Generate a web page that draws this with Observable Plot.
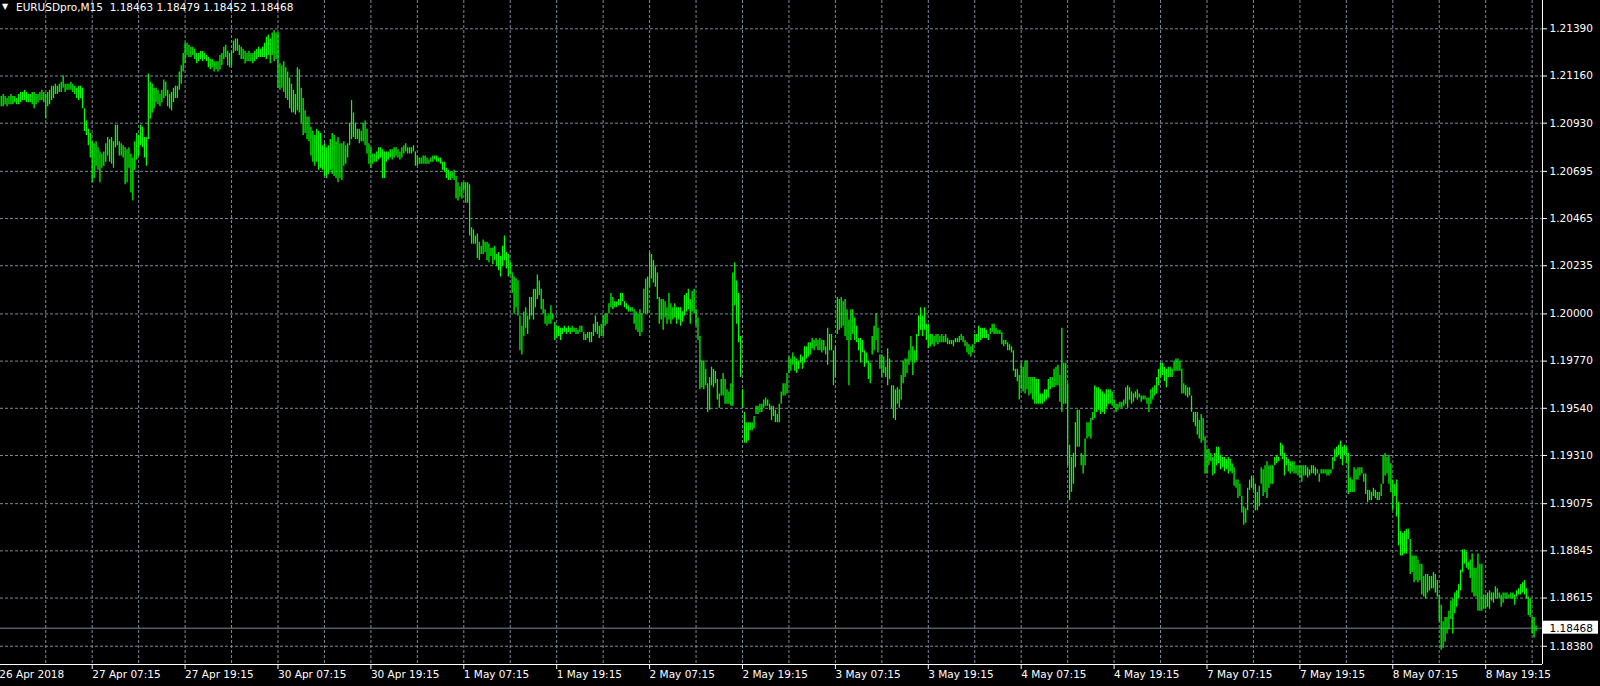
<!DOCTYPE html>
<html><head><meta charset="utf-8">
<script src="https://cdn.jsdelivr.net/npm/d3@7"></script>
<script src="https://cdn.jsdelivr.net/npm/@observablehq/plot@0.6"></script>
<style>
html,body{margin:0;padding:0;background:#000;}
#chart svg{display:block;}
</style></head><body><div id="chart"></div>
<script>
const symbol = "EURUSDpro,M15";
const lastBar = {open: 1.18463, high: 1.18479, low: 1.18452, close: 1.18468};
const priceTicks = [1.21390, 1.21160, 1.20930, 1.20695, 1.20465, 1.20235, 1.20000, 1.19770, 1.19540, 1.19310, 1.19075, 1.18845, 1.18615, 1.18380];
const timeLabels = ["26 Apr 2018","27 Apr 07:15","27 Apr 19:15","30 Apr 07:15","30 Apr 19:15","1 May 07:15","1 May 19:15","2 May 07:15","2 May 19:15","3 May 07:15","3 May 19:15","4 May 07:15","4 May 19:15","7 May 07:15","7 May 19:15","8 May 07:15","8 May 19:15"];
const barsPerLabel = 48; // M15 bars between two time labels (12 h)
const barsPerGrid = 24;

// high / low of each M15 bar, one pair of arrays per 12-hour session
const hi26Apr1915 = [1.2106,1.2106,1.2107,1.2106,1.2105,1.2106,1.2107,1.2106,1.2106,1.2105,1.2107,1.2108,1.2108,1.2109,1.2108,1.2107,1.2107,1.2108,1.2108,1.2107,1.2107,1.2108,1.2109,1.2108,1.2107,1.2108,1.2109,1.2111,1.2111,1.2112,1.2111,1.2112,1.2113,1.2116,1.2112,1.2112,1.2112,1.2113,1.2112,1.2111,1.2110,1.2111,1.2111,1.2110,1.2100,1.2094,1.2090,1.2088];
const lo26Apr1915 = [1.2096,1.2101,1.2101,1.2102,1.2101,1.2102,1.2102,1.2102,1.2103,1.2102,1.2102,1.2103,1.2104,1.2104,1.2103,1.2103,1.2103,1.2102,1.2100,1.2102,1.2103,1.2104,1.2104,1.2103,1.2095,1.2101,1.2102,1.2104,1.2105,1.2107,1.2107,1.2108,1.2108,1.2110,1.2108,1.2109,1.2109,1.2109,1.2108,1.2107,1.2105,1.2104,1.2105,1.2100,1.2089,1.2087,1.2082,1.2076];
const hi27Apr0715 = [1.2084,1.2083,1.2084,1.2081,1.2079,1.2078,1.2079,1.2083,1.2086,1.2085,1.2086,1.2084,1.2092,1.2092,1.2084,1.2083,1.2082,1.2081,1.2080,1.2081,1.2078,1.2076,1.2084,1.2088,1.2087,1.2092,1.2091,1.2086,1.2086,1.2117,1.2113,1.2112,1.2110,1.2110,1.2109,1.2107,1.2109,1.2114,1.2113,1.2109,1.2107,1.2108,1.2110,1.2111,1.2111,1.2118,1.2121,1.2127];
const lo27Apr0715 = [1.2064,1.2066,1.2072,1.2070,1.2064,1.2071,1.2072,1.2074,1.2077,1.2074,1.2073,1.2071,1.2081,1.2082,1.2077,1.2077,1.2076,1.2063,1.2064,1.2071,1.2059,1.2055,1.2070,1.2075,1.2077,1.2082,1.2081,1.2076,1.2072,1.2085,1.2095,1.2098,1.2100,1.2103,1.2102,1.2101,1.2103,1.2105,1.2106,1.2101,1.2100,1.2099,1.2103,1.2105,1.2105,1.2109,1.2112,1.2118];
const hi27Apr1915 = [1.2132,1.2132,1.2131,1.2130,1.2130,1.2129,1.2127,1.2127,1.2128,1.2128,1.2127,1.2126,1.2125,1.2124,1.2124,1.2123,1.2123,1.2123,1.2126,1.2127,1.2130,1.2131,1.2128,1.2127,1.2128,1.2133,1.2134,1.2134,1.2131,1.2130,1.2129,1.2128,1.2127,1.2128,1.2127,1.2127,1.2128,1.2129,1.2130,1.2129,1.2130,1.2132,1.2135,1.2136,1.2134,1.2137,1.2138,1.2137];
const lo27Apr1915 = [1.2122,1.2126,1.2125,1.2125,1.2126,1.2124,1.2122,1.2123,1.2124,1.2123,1.2124,1.2123,1.2120,1.2119,1.2120,1.2118,1.2119,1.2118,1.2119,1.2121,1.2124,1.2125,1.2121,1.2120,1.2121,1.2127,1.2128,1.2128,1.2126,1.2124,1.2124,1.2122,1.2123,1.2123,1.2123,1.2122,1.2123,1.2124,1.2125,1.2125,1.2125,1.2125,1.2124,1.2126,1.2122,1.2126,1.2123,1.2124];
const hi30Apr0715 = [1.2137,1.2122,1.2121,1.2123,1.2120,1.2118,1.2115,1.2112,1.2109,1.2107,1.2120,1.2119,1.2110,1.2105,1.2099,1.2096,1.2096,1.2091,1.2089,1.2087,1.2090,1.2089,1.2088,1.2082,1.2083,1.2081,1.2082,1.2085,1.2088,1.2087,1.2084,1.2086,1.2083,1.2083,1.2084,1.2082,1.2083,1.2093,1.2104,1.2098,1.2093,1.2090,1.2090,1.2089,1.2093,1.2094,1.2090,1.2083];
const lo30Apr0715 = [1.2110,1.2109,1.2110,1.2108,1.2105,1.2104,1.2100,1.2098,1.2098,1.2097,1.2099,1.2098,1.2093,1.2087,1.2088,1.2085,1.2084,1.2077,1.2074,1.2072,1.2074,1.2070,1.2071,1.2070,1.2067,1.2066,1.2068,1.2070,1.2068,1.2067,1.2066,1.2064,1.2066,1.2065,1.2072,1.2073,1.2076,1.2082,1.2085,1.2086,1.2085,1.2085,1.2083,1.2084,1.2084,1.2082,1.2078,1.2073];
const hi30Apr1915 = [1.2081,1.2078,1.2078,1.2079,1.2081,1.2081,1.2080,1.2079,1.2079,1.2079,1.2080,1.2080,1.2081,1.2081,1.2080,1.2079,1.2081,1.2082,1.2083,1.2081,1.2081,1.2081,1.2082,1.2079,1.2077,1.2076,1.2076,1.2077,1.2077,1.2076,1.2075,1.2076,1.2077,1.2077,1.2077,1.2076,1.2076,1.2074,1.2074,1.2071,1.2070,1.2069,1.2069,1.2070,1.2067,1.2064,1.2062,1.2064];
const lo30Apr1915 = [1.2071,1.2073,1.2074,1.2074,1.2075,1.2076,1.2066,1.2066,1.2074,1.2075,1.2076,1.2075,1.2076,1.2077,1.2076,1.2075,1.2076,1.2078,1.2079,1.2078,1.2078,1.2078,1.2079,1.2072,1.2072,1.2073,1.2073,1.2073,1.2073,1.2073,1.2073,1.2074,1.2074,1.2075,1.2074,1.2074,1.2073,1.2070,1.2069,1.2066,1.2065,1.2065,1.2066,1.2065,1.2056,1.2055,1.2057,1.2056];
const hi1May0715 = [1.2064,1.2064,1.2064,1.2063,1.2042,1.2041,1.2038,1.2039,1.2035,1.2033,1.2036,1.2035,1.2035,1.2034,1.2032,1.2032,1.2033,1.2029,1.2030,1.2028,1.2033,1.2038,1.2030,1.2029,1.2025,1.2020,1.2018,1.2017,1.2016,1.1999,1.1994,1.2001,1.2003,1.1999,1.2008,1.2008,1.2012,1.2012,1.2019,1.2016,1.2012,1.2007,1.2002,1.1999,1.2000,1.2004,1.2000,1.1996];
const lo1May0715 = [1.2060,1.2054,1.2054,1.2038,1.2034,1.2034,1.2034,1.2027,1.2026,1.2029,1.2029,1.2030,1.2026,1.2025,1.2028,1.2024,1.2026,1.2023,1.2021,1.2018,1.2023,1.2026,1.2022,1.2018,1.2019,1.2010,1.2000,1.2003,1.1999,1.1982,1.1980,1.1989,1.1993,1.1990,1.1997,1.1999,1.1997,1.2003,1.2007,1.2009,1.2002,1.2000,1.1995,1.1994,1.1995,1.1995,1.1997,1.1987];
const hi1May1915 = [1.1994,1.1994,1.1993,1.1993,1.1994,1.1993,1.1994,1.1993,1.1994,1.1993,1.1993,1.1992,1.1994,1.1994,1.1991,1.1990,1.1991,1.1991,1.1991,1.1995,1.1999,1.1996,1.1994,1.1995,1.1999,1.2000,1.2000,1.2005,1.2010,1.2008,1.2006,1.2006,1.2007,1.2010,1.2010,1.2006,1.2005,1.2004,1.2003,1.2003,1.2002,1.2001,1.2000,1.2002,1.2000,1.2012,1.2017,1.2018];
const lo1May1915 = [1.1988,1.1989,1.1987,1.1990,1.1991,1.1990,1.1991,1.1990,1.1991,1.1991,1.1990,1.1990,1.1991,1.1991,1.1987,1.1987,1.1988,1.1986,1.1986,1.1989,1.1991,1.1990,1.1988,1.1989,1.1989,1.1994,1.1995,1.2000,1.2003,1.2002,1.2003,1.2003,1.2004,1.2004,1.2006,1.2003,1.2002,1.2001,1.2001,1.2001,1.1995,1.1992,1.1991,1.1989,1.1991,1.2000,1.2000,1.2000];
const hi2May0715 = [1.2030,1.2029,1.2026,1.2023,1.2020,1.2008,1.2007,1.2007,1.2006,1.2003,1.2010,1.2005,1.2003,1.2005,1.2003,1.2003,1.2003,1.2001,1.2009,1.2010,1.2012,1.2007,1.2011,1.2012,1.2002,1.1998,1.1989,1.1977,1.1977,1.1973,1.1966,1.1969,1.1974,1.1973,1.1972,1.1968,1.1961,1.1968,1.1971,1.1968,1.1963,1.1962,1.1966,1.2020,1.2025,1.2016,1.2010,1.1989];
const lo2May0715 = [1.2013,1.2017,1.2015,1.2013,1.2007,1.1995,1.1997,1.1992,1.1998,1.1995,1.1997,1.1995,1.1997,1.1998,1.1995,1.1997,1.1994,1.1996,1.1999,1.2001,1.2002,1.1995,1.2001,1.2000,1.1994,1.1987,1.1963,1.1964,1.1963,1.1965,1.1952,1.1953,1.1965,1.1964,1.1966,1.1958,1.1954,1.1960,1.1960,1.1956,1.1956,1.1956,1.1955,1.1955,1.2004,1.1995,1.1986,1.1969];
const hi2May1915 = [1.1963,1.1952,1.1947,1.1947,1.1947,1.1947,1.1950,1.1955,1.1955,1.1956,1.1956,1.1958,1.1959,1.1958,1.1956,1.1955,1.1955,1.1953,1.1951,1.1956,1.1962,1.1966,1.1966,1.1971,1.1979,1.1978,1.1981,1.1979,1.1978,1.1977,1.1980,1.1979,1.1984,1.1984,1.1986,1.1986,1.1988,1.1987,1.1988,1.1987,1.1988,1.1987,1.1987,1.1984,1.1993,1.1990,1.1990,1.1982];
const lo2May1915 = [1.1954,1.1937,1.1937,1.1938,1.1943,1.1943,1.1944,1.1951,1.1951,1.1952,1.1952,1.1954,1.1955,1.1955,1.1953,1.1948,1.1950,1.1947,1.1947,1.1947,1.1956,1.1960,1.1960,1.1961,1.1971,1.1972,1.1975,1.1972,1.1971,1.1973,1.1976,1.1973,1.1976,1.1978,1.1979,1.1980,1.1983,1.1982,1.1984,1.1982,1.1982,1.1981,1.1982,1.1980,1.1975,1.1982,1.1982,1.1965];
const hi3May0715 = [1.1984,1.2008,1.2007,1.2008,1.2006,1.2007,1.2002,1.1997,1.2002,1.2002,1.1998,1.1994,1.1988,1.1988,1.1987,1.1982,1.1981,1.1977,1.1976,1.1989,1.1994,1.2000,1.1993,1.1980,1.1980,1.1979,1.1974,1.1983,1.1978,1.1965,1.1965,1.1963,1.1964,1.1963,1.1970,1.1977,1.1978,1.1978,1.1982,1.1989,1.1984,1.1982,1.1990,1.1999,1.2003,1.1999,1.2003,1.1995];
const lo3May0715 = [1.1969,1.1990,1.1992,1.1993,1.1994,1.1989,1.1987,1.1965,1.1987,1.1990,1.1987,1.1986,1.1982,1.1976,1.1981,1.1974,1.1976,1.1968,1.1966,1.1980,1.1982,1.1987,1.1981,1.1973,1.1969,1.1971,1.1969,1.1965,1.1968,1.1954,1.1949,1.1948,1.1956,1.1954,1.1958,1.1966,1.1969,1.1971,1.1975,1.1977,1.1970,1.1976,1.1977,1.1989,1.1992,1.1989,1.1992,1.1987];
const hi3May1915 = [1.1995,1.1990,1.1990,1.1989,1.1990,1.1990,1.1989,1.1990,1.1989,1.1990,1.1988,1.1987,1.1987,1.1987,1.1988,1.1988,1.1989,1.1990,1.1989,1.1987,1.1986,1.1985,1.1984,1.1985,1.1990,1.1990,1.1994,1.1993,1.1993,1.1993,1.1992,1.1990,1.1993,1.1995,1.1995,1.1993,1.1992,1.1992,1.1991,1.1987,1.1987,1.1986,1.1985,1.1984,1.1982,1.1973,1.1973,1.1970];
const lo3May1915 = [1.1983,1.1984,1.1985,1.1984,1.1986,1.1985,1.1986,1.1986,1.1986,1.1986,1.1985,1.1985,1.1985,1.1984,1.1986,1.1986,1.1986,1.1987,1.1986,1.1984,1.1981,1.1980,1.1979,1.1981,1.1985,1.1986,1.1986,1.1987,1.1988,1.1988,1.1988,1.1987,1.1990,1.1991,1.1990,1.1990,1.1990,1.1990,1.1985,1.1984,1.1985,1.1982,1.1982,1.1981,1.1972,1.1969,1.1967,1.1958];
const hi4May0715 = [1.1976,1.1974,1.1977,1.1977,1.1969,1.1969,1.1969,1.1969,1.1968,1.1968,1.1961,1.1961,1.1963,1.1963,1.1968,1.1969,1.1969,1.1973,1.1974,1.1975,1.1970,1.1993,1.1976,1.1976,1.1966,1.1936,1.1930,1.1932,1.1947,1.1953,1.1953,1.1932,1.1931,1.1939,1.1947,1.1947,1.1949,1.1952,1.1965,1.1964,1.1964,1.1963,1.1962,1.1961,1.1963,1.1963,1.1963,1.1962];
const lo4May0715 = [1.1963,1.1962,1.1961,1.1963,1.1960,1.1961,1.1958,1.1956,1.1956,1.1956,1.1956,1.1956,1.1957,1.1958,1.1959,1.1963,1.1964,1.1964,1.1965,1.1965,1.1957,1.1952,1.1956,1.1956,1.1926,1.1909,1.1913,1.1917,1.1925,1.1935,1.1935,1.1926,1.1922,1.1926,1.1939,1.1940,1.1939,1.1948,1.1949,1.1952,1.1953,1.1951,1.1952,1.1951,1.1954,1.1956,1.1956,1.1955];
const hi4May1915 = [1.1958,1.1956,1.1956,1.1957,1.1957,1.1958,1.1964,1.1965,1.1964,1.1962,1.1961,1.1962,1.1963,1.1961,1.1960,1.1960,1.1960,1.1959,1.1959,1.1963,1.1964,1.1965,1.1969,1.1973,1.1976,1.1976,1.1974,1.1973,1.1974,1.1974,1.1973,1.1977,1.1978,1.1978,1.1977,1.1973,1.1966,1.1965,1.1964,1.1964,1.1960,1.1952,1.1952,1.1952,1.1948,1.1951,1.1949,1.1940];
const lo4May1915 = [1.1954,1.1952,1.1953,1.1954,1.1954,1.1955,1.1956,1.1954,1.1958,1.1956,1.1957,1.1959,1.1958,1.1959,1.1957,1.1958,1.1958,1.1956,1.1952,1.1956,1.1958,1.1960,1.1961,1.1965,1.1969,1.1970,1.1967,1.1964,1.1969,1.1969,1.1969,1.1972,1.1972,1.1972,1.1972,1.1961,1.1961,1.1960,1.1959,1.1960,1.1952,1.1947,1.1945,1.1941,1.1939,1.1937,1.1938,1.1922];
const hi7May0715 = [1.1934,1.1934,1.1932,1.1930,1.1932,1.1935,1.1935,1.1931,1.1930,1.1930,1.1929,1.1930,1.1929,1.1927,1.1925,1.1919,1.1919,1.1917,1.1911,1.1906,1.1905,1.1915,1.1919,1.1921,1.1920,1.1917,1.1913,1.1916,1.1925,1.1924,1.1926,1.1928,1.1926,1.1926,1.1926,1.1930,1.1931,1.1930,1.1937,1.1936,1.1932,1.1930,1.1929,1.1928,1.1928,1.1928,1.1926,1.1926];
const lo7May0715 = [1.1922,1.1926,1.1928,1.1921,1.1922,1.1926,1.1927,1.1924,1.1925,1.1923,1.1924,1.1922,1.1923,1.1922,1.1916,1.1915,1.1910,1.1911,1.1903,1.1897,1.1898,1.1904,1.1914,1.1915,1.1914,1.1904,1.1904,1.1906,1.1917,1.1911,1.1913,1.1910,1.1915,1.1917,1.1917,1.1926,1.1927,1.1928,1.1931,1.1929,1.1921,1.1926,1.1923,1.1922,1.1923,1.1922,1.1922,1.1921];
const hi7May1915 = [1.1926,1.1926,1.1926,1.1926,1.1925,1.1924,1.1926,1.1926,1.1925,1.1924,1.1922,1.1924,1.1924,1.1924,1.1924,1.1924,1.1924,1.1930,1.1934,1.1935,1.1936,1.1938,1.1935,1.1936,1.1935,1.1932,1.1920,1.1919,1.1925,1.1924,1.1925,1.1925,1.1925,1.1922,1.1922,1.1914,1.1914,1.1913,1.1915,1.1914,1.1913,1.1913,1.1917,1.1931,1.1932,1.1930,1.1931,1.1927];
const lo7May1915 = [1.1920,1.1918,1.1921,1.1921,1.1920,1.1921,1.1922,1.1922,1.1921,1.1922,1.1918,1.1922,1.1922,1.1922,1.1921,1.1921,1.1922,1.1924,1.1928,1.1930,1.1931,1.1929,1.1926,1.1931,1.1927,1.1912,1.1913,1.1913,1.1913,1.1919,1.1919,1.1921,1.1922,1.1918,1.1912,1.1908,1.1909,1.1909,1.1911,1.1910,1.1909,1.1909,1.1911,1.1917,1.1921,1.1922,1.1917,1.1913];
const hi8May0715 = [1.1919,1.1917,1.1919,1.1908,1.1894,1.1893,1.1894,1.1895,1.1895,1.1890,1.1882,1.1882,1.1882,1.1880,1.1878,1.1878,1.1872,1.1873,1.1873,1.1872,1.1872,1.1874,1.1873,1.1870,1.1863,1.1858,1.1850,1.1852,1.1852,1.1855,1.1860,1.1861,1.1864,1.1865,1.1868,1.1875,1.1885,1.1885,1.1884,1.1879,1.1880,1.1883,1.1876,1.1876,1.1883,1.1878,1.1878,1.1863];
const lo8May0715 = [1.1904,1.1911,1.1901,1.1887,1.1882,1.1882,1.1883,1.1883,1.1890,1.1873,1.1874,1.1869,1.1870,1.1869,1.1870,1.1863,1.1862,1.1861,1.1864,1.1865,1.1866,1.1866,1.1864,1.1862,1.1850,1.1836,1.1837,1.1840,1.1844,1.1846,1.1851,1.1844,1.1854,1.1857,1.1861,1.1865,1.1874,1.1878,1.1876,1.1875,1.1871,1.1864,1.1862,1.1862,1.1855,1.1855,1.1855,1.1856];
const hi8May1915 = [1.1863,1.1864,1.1865,1.1864,1.1864,1.1867,1.1866,1.1864,1.1863,1.1864,1.1864,1.1864,1.1863,1.1864,1.1864,1.1863,1.1865,1.1866,1.1868,1.1869,1.1870,1.1866,1.1862,1.1861,1.1852,1.1852,1.18479];
const lo8May1915 = [1.1856,1.1857,1.1856,1.1860,1.1859,1.1861,1.1861,1.1861,1.1857,1.1859,1.1861,1.1861,1.1861,1.1861,1.1861,1.1858,1.1862,1.1863,1.1863,1.1864,1.1863,1.1861,1.1853,1.1852,1.1844,1.1842,1.18452];

const sessions = [
  [hi26Apr1915, lo26Apr1915], [hi27Apr0715, lo27Apr0715], [hi27Apr1915, lo27Apr1915],
  [hi30Apr0715, lo30Apr0715], [hi30Apr1915, lo30Apr1915], [hi1May0715, lo1May0715],
  [hi1May1915, lo1May1915], [hi2May0715, lo2May0715], [hi2May1915, lo2May1915],
  [hi3May0715, lo3May0715], [hi3May1915, lo3May1915], [hi4May0715, lo4May0715],
  [hi4May1915, lo4May1915], [hi7May0715, lo7May0715], [hi7May1915, lo7May1915],
  [hi8May0715, lo8May0715], [hi8May1915, lo8May1915]
];
const bars = [];
for (const [hi, lo] of sessions) hi.forEach((h, j) => bars.push({i: bars.length, high: h, low: lo[j]}));

const labelBars = timeLabels.map((_, k) => k * barsPerLabel);
const gridBars = d3.range(barsPerGrid, bars.length + 1, barsPerGrid);
const xDomain = [0.62, 797.35];
const yDomain = [1.18291, 1.21528];
const gridColor = "#7b8a9a";
const fmt = d => d.toFixed(5);
const title = `${symbol}\u00a0\u00a0${fmt(lastBar.open)} ${fmt(lastBar.high)} ${fmt(lastBar.low)} ${fmt(lastBar.close)}`;

const chart = Plot.plot({
  width: 1600, height: 686,
  marginLeft: 0, marginRight: 58, marginTop: 0, marginBottom: 22,
  style: {background: "#000", color: "#fff", fontFamily: "'DejaVu Sans', sans-serif", fontSize: "10.5px"},
  x: {type: "linear", domain: xDomain, axis: null},
  y: {type: "linear", domain: yDomain, axis: null},
  marks: [
    Plot.gridY(priceTicks, {stroke: gridColor, strokeOpacity: 1, strokeDasharray: "3,2"}),
    Plot.gridX(gridBars, {stroke: gridColor, strokeOpacity: 1, strokeDasharray: "3,2"}),
    Plot.ruleY([lastBar.close], {stroke: gridColor, strokeOpacity: 1}),
    Plot.ruleX(bars, {x: "i", y1: "low", y2: "high", stroke: "#00ff00", strokeWidth: 1.25}),
    Plot.ruleX([xDomain[1]], {stroke: "#fff"}),
    Plot.ruleY([yDomain[0]], {stroke: "#fff"}),
    Plot.axisY(priceTicks, {anchor: "right", tickSize: 4, tickPadding: 3, tickFormat: fmt, textAnchor: "start", label: null}),
    Plot.axisX(labelBars, {anchor: "bottom", tickSize: 5, tickPadding: 1.5, tickFormat: d => timeLabels[d / barsPerLabel], textAnchor: "start", label: null}),
    Plot.rect([lastBar.close], {x1: xDomain[1], x2: xDomain[1], y1: d => d, y2: d => d, insetLeft: 1, insetRight: -56, insetTop: -7, insetBottom: -6, fill: "#fff"}),
    Plot.text([lastBar.close], {x: xDomain[1], y: d => d, text: fmt, dx: 7, textAnchor: "start", fill: "#000"}),
    Plot.text(["\u25BC"], {frameAnchor: "top-left", dx: 1.5, dy: 3, fontSize: 8, lineAnchor: "top", textAnchor: "start", fill: "#fff"}),
    Plot.text([title], {frameAnchor: "top-left", dx: 15.5, dy: 3.5, lineAnchor: "top", textAnchor: "start", fill: "#fff"})
  ]
});
document.getElementById("chart").appendChild(chart);
</script>
</body></html>
